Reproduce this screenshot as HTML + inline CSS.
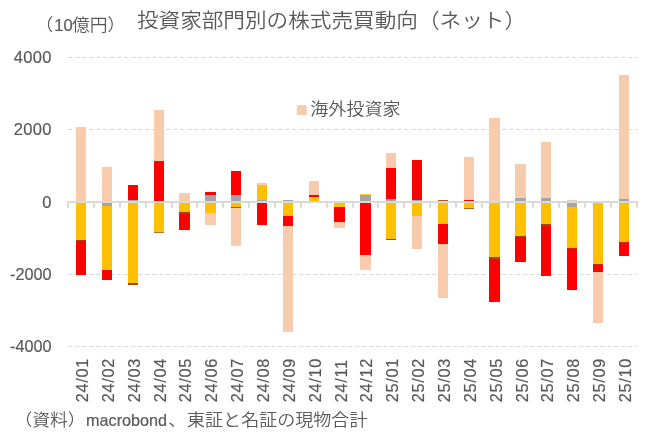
<!DOCTYPE html>
<html lang="ja"><head><meta charset="utf-8"><title>投資家部門別の株式売買動向（ネット）</title>
<style>
html,body{margin:0;padding:0;background:#fff;}
body{width:648px;height:442px;overflow:hidden;position:relative;}
svg{position:absolute;left:0;top:0;display:block;}
text{fill:#595959;}
.lat{font-family:"Liberation Sans",sans-serif;stroke:#595959;stroke-width:0.2px;}
.jp{font-family:"Liberation Sans","Noto Sans CJK JP",sans-serif;font-weight:350;}
.jp .n{font-weight:400;}
</style></head><body>
<svg width="648" height="442" viewBox="0 0 648 442">
<rect x="0" y="0" width="648" height="442" fill="#ffffff"/>
<line x1="68.20" y1="57.50" x2="637.60" y2="57.50" stroke="#D9D9D9" stroke-width="1" stroke-dasharray="4.2 2.8"/>
<line x1="68.20" y1="129.50" x2="637.60" y2="129.50" stroke="#D9D9D9" stroke-width="1" stroke-dasharray="4.2 2.8"/>
<line x1="68.20" y1="274.50" x2="637.60" y2="274.50" stroke="#D9D9D9" stroke-width="1" stroke-dasharray="4.2 2.8"/>
<line x1="68.20" y1="346.50" x2="637.60" y2="346.50" stroke="#D9D9D9" stroke-width="1" stroke-dasharray="4.2 2.8"/>
<rect x="76" y="127" width="10" height="75" fill="#F8CBAD"/>
<rect x="76" y="202" width="10" height="38" fill="#FFC000"/>
<rect x="76" y="240" width="10" height="35" fill="#FF0000"/>
<rect x="76" y="240" width="10" height="1" fill="#9E480E" fill-opacity="0.75"/>
<rect x="102" y="167" width="10" height="35" fill="#F8CBAD"/>
<rect x="102" y="202" width="10" height="4" fill="#A5A5A5"/>
<rect x="102" y="206" width="10" height="64" fill="#FFC000"/>
<rect x="102" y="270" width="10" height="10" fill="#FF0000"/>
<rect x="128" y="185" width="10" height="15" fill="#FF0000"/>
<rect x="128" y="200" width="10" height="2" fill="#A5A5A5"/>
<rect x="128" y="202" width="10" height="81" fill="#FFC000"/>
<rect x="128" y="283" width="10" height="2" fill="#9E480E"/>
<rect x="154" y="110" width="10" height="51" fill="#F8CBAD"/>
<rect x="154" y="161" width="10" height="41" fill="#FF0000"/>
<rect x="154" y="202" width="10" height="30" fill="#FFC000"/>
<rect x="154" y="232" width="10" height="1" fill="#9E480E" fill-opacity="0.80"/>
<rect x="179" y="193" width="11" height="9" fill="#F8CBAD"/>
<rect x="179" y="202" width="11" height="10" fill="#FFC000"/>
<rect x="179" y="212" width="11" height="2" fill="#9E480E"/>
<rect x="179" y="214" width="11" height="16" fill="#FF0000"/>
<rect x="205" y="192" width="11" height="3" fill="#FF0000"/>
<rect x="205" y="195" width="11" height="7" fill="#A5A5A5"/>
<rect x="205" y="202" width="11" height="11" fill="#FFC000"/>
<rect x="205" y="213" width="11" height="12" fill="#F8CBAD"/>
<rect x="231" y="171" width="10" height="24" fill="#FF0000"/>
<rect x="231" y="195" width="10" height="7" fill="#A5A5A5"/>
<rect x="231" y="202" width="10" height="5" fill="#FFC000"/>
<rect x="231" y="207" width="10" height="39" fill="#F8CBAD"/>
<rect x="231" y="207" width="10" height="1" fill="#9E480E" fill-opacity="0.90"/>
<rect x="257" y="183" width="10" height="2" fill="#F8CBAD"/>
<rect x="257" y="185" width="10" height="15" fill="#FFC000"/>
<rect x="257" y="200" width="10" height="2" fill="#A5A5A5"/>
<rect x="257" y="202" width="10" height="23" fill="#FF0000"/>
<rect x="283" y="200" width="10" height="2" fill="#A5A5A5"/>
<rect x="283" y="202" width="10" height="14" fill="#FFC000"/>
<rect x="283" y="216" width="10" height="10" fill="#FF0000"/>
<rect x="283" y="226" width="10" height="106" fill="#F8CBAD"/>
<rect x="309" y="181" width="10" height="14" fill="#F8CBAD"/>
<rect x="309" y="195" width="10" height="2" fill="#FF0000"/>
<rect x="309" y="197" width="10" height="5" fill="#FFC000"/>
<rect x="334" y="202" width="11" height="5" fill="#FFC000"/>
<rect x="334" y="207" width="11" height="15" fill="#FF0000"/>
<rect x="334" y="222" width="11" height="6" fill="#F8CBAD"/>
<rect x="360" y="194" width="11" height="1" fill="#FFC000" fill-opacity="0.80"/>
<rect x="360" y="195" width="11" height="7" fill="#A5A5A5"/>
<rect x="360" y="202" width="11" height="53" fill="#FF0000"/>
<rect x="360" y="255" width="11" height="15" fill="#F8CBAD"/>
<rect x="386" y="153" width="10" height="15" fill="#F8CBAD"/>
<rect x="386" y="168" width="10" height="31" fill="#FF0000"/>
<rect x="386" y="199" width="10" height="3" fill="#A5A5A5"/>
<rect x="386" y="202" width="10" height="37" fill="#FFC000"/>
<rect x="386" y="239" width="10" height="1" fill="#9E480E"/>
<rect x="412" y="160" width="10" height="40" fill="#FF0000"/>
<rect x="412" y="200" width="10" height="2" fill="#A5A5A5"/>
<rect x="412" y="202" width="10" height="14" fill="#FFC000"/>
<rect x="412" y="216" width="10" height="33" fill="#F8CBAD"/>
<rect x="438" y="200" width="10" height="1" fill="#9E480E" fill-opacity="0.90"/>
<rect x="438" y="202" width="10" height="22" fill="#FFC000"/>
<rect x="438" y="224" width="10" height="20" fill="#FF0000"/>
<rect x="438" y="244" width="10" height="54" fill="#F8CBAD"/>
<rect x="464" y="157" width="10" height="43" fill="#F8CBAD"/>
<rect x="464" y="200" width="10" height="1" fill="#FF0000"/>
<rect x="464" y="202" width="10" height="6" fill="#FFC000"/>
<rect x="464" y="208" width="10" height="1" fill="#9E480E" fill-opacity="0.85"/>
<rect x="489" y="118" width="11" height="84" fill="#F8CBAD"/>
<rect x="489" y="202" width="11" height="55" fill="#FFC000"/>
<rect x="489" y="257" width="11" height="2" fill="#9E480E"/>
<rect x="489" y="259" width="11" height="43" fill="#FF0000"/>
<rect x="515" y="164" width="11" height="34" fill="#F8CBAD"/>
<rect x="515" y="198" width="11" height="4" fill="#A5A5A5"/>
<rect x="515" y="202" width="11" height="34" fill="#FFC000"/>
<rect x="515" y="236" width="11" height="26" fill="#FF0000"/>
<rect x="515" y="236" width="11" height="1" fill="#9E480E" fill-opacity="0.90"/>
<rect x="541" y="142" width="10" height="56" fill="#F8CBAD"/>
<rect x="541" y="198" width="10" height="4" fill="#A5A5A5"/>
<rect x="541" y="202" width="10" height="22" fill="#FFC000"/>
<rect x="541" y="224" width="10" height="2" fill="#9E480E"/>
<rect x="541" y="226" width="10" height="50" fill="#FF0000"/>
<rect x="567" y="200" width="10" height="2" fill="#F8CBAD"/>
<rect x="567" y="202" width="10" height="5" fill="#A5A5A5"/>
<rect x="567" y="207" width="10" height="41" fill="#FFC000"/>
<rect x="567" y="248" width="10" height="42" fill="#FF0000"/>
<rect x="567" y="248" width="10" height="1" fill="#9E480E" fill-opacity="0.55"/>
<rect x="593" y="202" width="10" height="62" fill="#FFC000"/>
<rect x="593" y="264" width="10" height="8" fill="#FF0000"/>
<rect x="593" y="264" width="10" height="1" fill="#9E480E" fill-opacity="0.70"/>
<rect x="593" y="272" width="10" height="51" fill="#F8CBAD"/>
<rect x="619" y="75" width="10" height="124" fill="#F8CBAD"/>
<rect x="619" y="199" width="10" height="3" fill="#A5A5A5"/>
<rect x="619" y="202" width="10" height="40" fill="#FFC000"/>
<rect x="619" y="242" width="10" height="14" fill="#FF0000"/>
<rect x="619" y="242" width="10" height="1" fill="#9E480E" fill-opacity="0.55"/>
<rect x="67.3" y="201" width="570.7" height="2" fill="#D9D9D9"/>
<rect x="67" y="202" width="2" height="5.7" fill="#D9D9D9"/>
<rect x="93" y="202" width="2" height="5.7" fill="#D9D9D9"/>
<rect x="119" y="202" width="2" height="5.7" fill="#D9D9D9"/>
<rect x="145" y="202" width="2" height="5.7" fill="#D9D9D9"/>
<rect x="171" y="202" width="2" height="5.7" fill="#D9D9D9"/>
<rect x="196" y="202" width="2" height="5.7" fill="#D9D9D9"/>
<rect x="222" y="202" width="2" height="5.7" fill="#D9D9D9"/>
<rect x="248" y="202" width="2" height="5.7" fill="#D9D9D9"/>
<rect x="274" y="202" width="2" height="5.7" fill="#D9D9D9"/>
<rect x="300" y="202" width="2" height="5.7" fill="#D9D9D9"/>
<rect x="326" y="202" width="2" height="5.7" fill="#D9D9D9"/>
<rect x="352" y="202" width="2" height="5.7" fill="#D9D9D9"/>
<rect x="377" y="202" width="2" height="5.7" fill="#D9D9D9"/>
<rect x="403" y="202" width="2" height="5.7" fill="#D9D9D9"/>
<rect x="429" y="202" width="2" height="5.7" fill="#D9D9D9"/>
<rect x="455" y="202" width="2" height="5.7" fill="#D9D9D9"/>
<rect x="481" y="202" width="2" height="5.7" fill="#D9D9D9"/>
<rect x="507" y="202" width="2" height="5.7" fill="#D9D9D9"/>
<rect x="532" y="202" width="2" height="5.7" fill="#D9D9D9"/>
<rect x="558" y="202" width="2" height="5.7" fill="#D9D9D9"/>
<rect x="584" y="202" width="2" height="5.7" fill="#D9D9D9"/>
<rect x="610" y="202" width="2" height="5.7" fill="#D9D9D9"/>
<rect x="636" y="202" width="2" height="5.7" fill="#D9D9D9"/>
<text class="lat" transform="translate(51.70,63.10) scale(1.060,1)" font-size="15.60" text-anchor="end" letter-spacing="0.3">4000</text>
<text class="lat" transform="translate(51.70,135.10) scale(1.060,1)" font-size="15.60" text-anchor="end" letter-spacing="0.3">2000</text>
<text class="lat" transform="translate(51.70,207.60) scale(1.060,1)" font-size="15.60" text-anchor="end" letter-spacing="0.3">0</text>
<text class="lat" transform="translate(51.60,280.10) scale(1.040,1)" font-size="15.60" text-anchor="end">-2000</text>
<text class="lat" transform="translate(51.60,352.10) scale(1.040,1)" font-size="15.60" text-anchor="end">-4000</text>
<text class="lat" transform="translate(87.93,402.3) rotate(-90)" font-size="16.3" letter-spacing="0.7">24/01</text>
<text class="lat" transform="translate(113.79,402.3) rotate(-90)" font-size="16.3" letter-spacing="0.7">24/02</text>
<text class="lat" transform="translate(139.65,402.3) rotate(-90)" font-size="16.3" letter-spacing="0.7">24/03</text>
<text class="lat" transform="translate(165.51,402.3) rotate(-90)" font-size="16.3" letter-spacing="0.7">24/04</text>
<text class="lat" transform="translate(191.37,402.3) rotate(-90)" font-size="16.3" letter-spacing="0.7">24/05</text>
<text class="lat" transform="translate(217.23,402.3) rotate(-90)" font-size="16.3" letter-spacing="0.7">24/06</text>
<text class="lat" transform="translate(243.09,402.3) rotate(-90)" font-size="16.3" letter-spacing="0.7">24/07</text>
<text class="lat" transform="translate(268.95,402.3) rotate(-90)" font-size="16.3" letter-spacing="0.7">24/08</text>
<text class="lat" transform="translate(294.81,402.3) rotate(-90)" font-size="16.3" letter-spacing="0.7">24/09</text>
<text class="lat" transform="translate(320.67,402.3) rotate(-90)" font-size="16.3" letter-spacing="0.7">24/10</text>
<text class="lat" transform="translate(346.53,402.3) rotate(-90)" font-size="16.3" letter-spacing="0.7">24/11</text>
<text class="lat" transform="translate(372.39,402.3) rotate(-90)" font-size="16.3" letter-spacing="0.7">24/12</text>
<text class="lat" transform="translate(398.25,402.3) rotate(-90)" font-size="16.3" letter-spacing="0.7">25/01</text>
<text class="lat" transform="translate(424.11,402.3) rotate(-90)" font-size="16.3" letter-spacing="0.7">25/02</text>
<text class="lat" transform="translate(449.97,402.3) rotate(-90)" font-size="16.3" letter-spacing="0.7">25/03</text>
<text class="lat" transform="translate(475.83,402.3) rotate(-90)" font-size="16.3" letter-spacing="0.7">25/04</text>
<text class="lat" transform="translate(501.69,402.3) rotate(-90)" font-size="16.3" letter-spacing="0.7">25/05</text>
<text class="lat" transform="translate(527.55,402.3) rotate(-90)" font-size="16.3" letter-spacing="0.7">25/06</text>
<text class="lat" transform="translate(553.41,402.3) rotate(-90)" font-size="16.3" letter-spacing="0.7">25/07</text>
<text class="lat" transform="translate(579.27,402.3) rotate(-90)" font-size="16.3" letter-spacing="0.7">25/08</text>
<text class="lat" transform="translate(605.13,402.3) rotate(-90)" font-size="16.3" letter-spacing="0.7">25/09</text>
<text class="lat" transform="translate(630.99,402.3) rotate(-90)" font-size="16.3" letter-spacing="0.7">25/10</text>
<rect x="296.8" y="105.2" width="9.9" height="9.8" fill="#F8CBAD"/>
<text class="jp" transform="translate(310.20,115.10) scale(1.070,1)" font-size="16.90">海外投資家</text>
<text class="jp" transform="translate(35.20,31.00) scale(1.050,1)" font-size="17.20">（</text>
<text class="lat" transform="translate(54.20,31.00) scale(1.000,1)" font-size="16.60">10</text>
<text class="jp" transform="translate(72.00,31.00) scale(1.035,1)" font-size="17.20">億円）</text>
<text class="jp" transform="translate(136.90,27.70) scale(1.065,1)" font-size="20.30">投資家部門別の株式売買動向（ネット）</text>
<text class="jp" transform="translate(14.40,425.80) scale(1.080,1)" font-size="16.50">（資料）</text>
<text class="lat" transform="translate(86.10,425.70) scale(1.000,1)" font-size="16.20">macrobond</text>
<text class="jp" transform="translate(168.30,425.80) scale(1.080,1)" font-size="16.50">、</text>
<text class="jp" transform="translate(187.00,425.80) scale(1.088,1)" font-size="16.60">東証と名証の現物合計</text>
</svg>
</body></html>
